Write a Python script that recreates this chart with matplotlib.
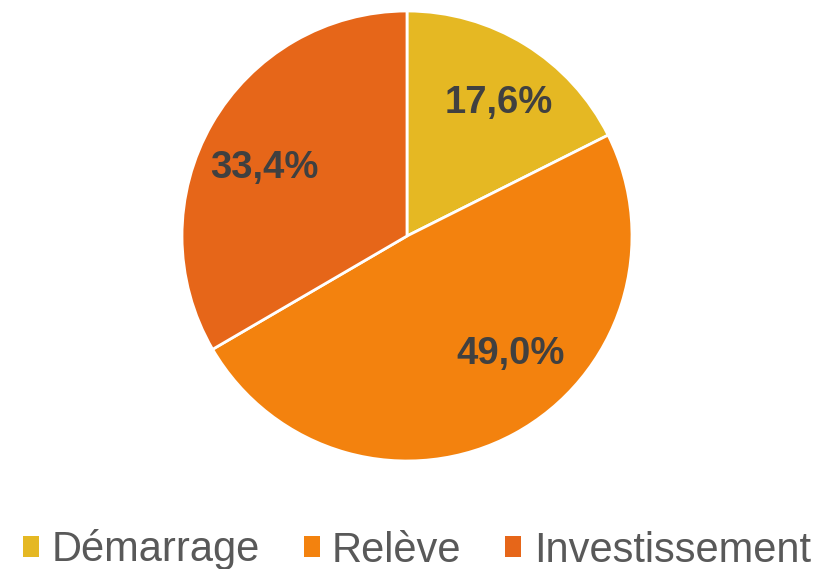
import matplotlib
matplotlib.use("Agg")
import matplotlib.pyplot as plt
from matplotlib.patches import Patch

plt.rcParams['font.family'] = ['Liberation Sans', 'DejaVu Sans']

categories = ['Démarrage', 'Relève', 'Investissement']
shares = [17.6, 49.0, 33.4]
colors = ['#E5B823', '#F3820E', '#E66619']

# nudges for the percentage labels (data units, radius = 1), same order as shares
label_nudge = [(0.036, -0.013), (0.124, 0.102), (-0.018, -0.053)]

fig = plt.figure(figsize=(8.27, 5.69), dpi=100)
# pie box: 450x450 px, centred at (407, 236) from top-left
ax = fig.add_axes([182 / 827, 108 / 569, 450 / 827, 450 / 569])

wedges, texts, autotexts = ax.pie(
    shares,
    colors=colors,
    startangle=90,
    counterclock=False,
    autopct=lambda p: f"{p:.1f}%".replace('.', ','),
    pctdistance=0.71,
    wedgeprops=dict(edgecolor='white', linewidth=2),
    textprops=dict(fontsize=27.5, fontweight='bold', color='#404040'),
)
for t, (dx, dy) in zip(autotexts, label_nudge):
    x, y = t.get_position()
    t.set_position((x + dx, y + dy))

ax.set_xlim(-1, 1)
ax.set_ylim(-1, 1)
ax.set_aspect('auto')

handles = [Patch(facecolor=c, edgecolor='none') for c in colors]
leg = fig.legend(handles, categories, loc='center', bbox_to_anchor=(417 / 827, 1 - 550 / 569),
                 ncol=3, frameon=False, fontsize=30, handlelength=0.38, handleheight=0.38,
                 handletextpad=0.3, columnspacing=1.05)
for t in leg.get_texts():
    t.set_color('#595959')

plt.savefig('out.png', dpi=100)
